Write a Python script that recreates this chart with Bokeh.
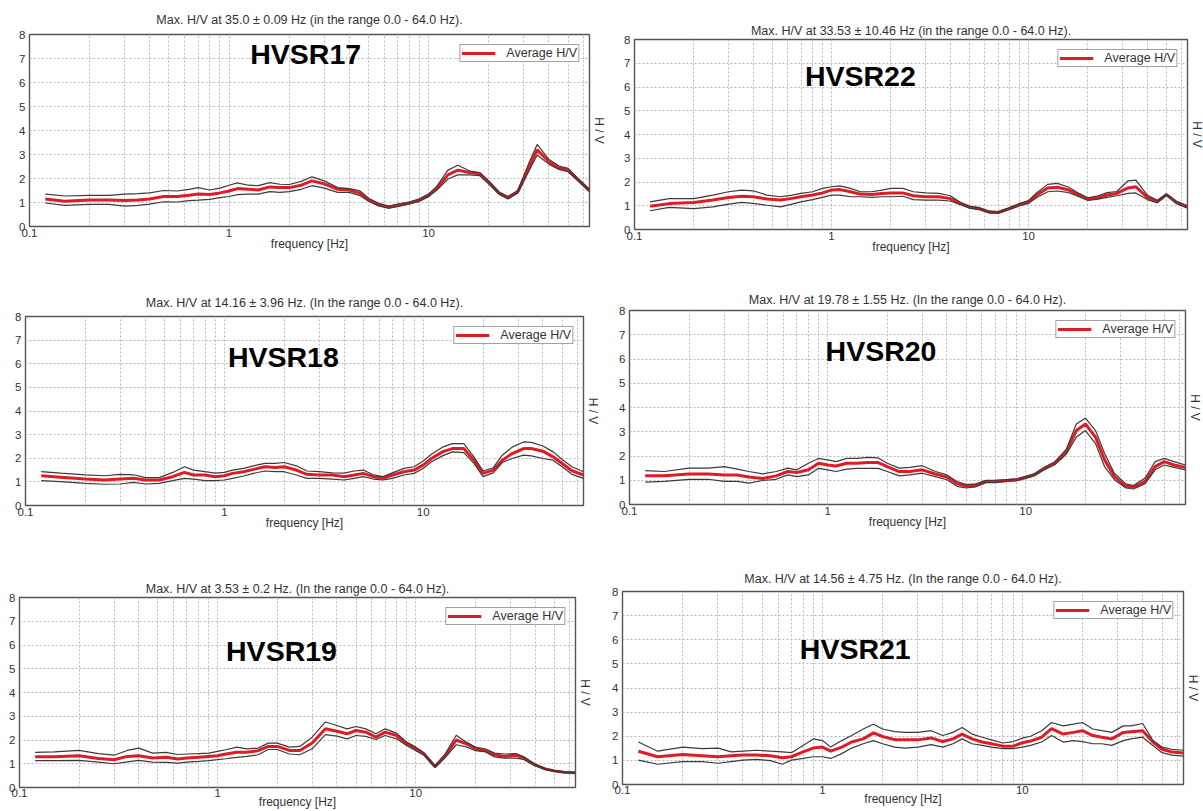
import math
from bokeh.plotting import figure
from bokeh.layouts import row, column
from bokeh.models import Range1d, FixedTicker, Label, CustomJSTickFormatter, LinearAxis, Spacer
from bokeh.embed import file_html
from bokeh.resources import INLINE

# ---------------- data ----------------
FREQ = [0.12, 0.15, 0.2, 0.25, 0.3, 0.35, 0.4, 0.47, 0.55, 0.63,
        0.7, 0.8, 0.9, 1.0, 1.1, 1.25, 1.4, 1.6, 1.8, 2.0,
        2.3, 2.6, 3.0, 3.5, 4.0, 4.5, 5.0, 5.6, 6.3, 7.0,
        8.0, 9.0, 10.0, 11.0, 12.5, 14.0, 16.0, 18.0, 20.0, 22.5,
        25.0, 28.0, 32.0, 35.0, 40.0, 45.0, 50.0, 56.0, 64.0]

HVSR17_AVG = [1.15, 1.05, 1.1, 1.1, 1.08, 1.1, 1.15, 1.25, 1.25, 1.3,
              1.35, 1.33, 1.4, 1.48, 1.58, 1.55, 1.52, 1.65, 1.62, 1.62,
              1.72, 1.9, 1.78, 1.55, 1.52, 1.4, 1.12, 0.92, 0.8, 0.88,
              0.98, 1.1, 1.3, 1.6, 2.15, 2.35, 2.25, 2.2, 1.85, 1.4,
              1.2, 1.45, 2.5, 3.2, 2.7, 2.45, 2.35, 1.95, 1.5]
HVSR17_UP = [1.35, 1.27, 1.3, 1.3, 1.35, 1.37, 1.4, 1.5, 1.48, 1.55,
             1.62, 1.52, 1.6, 1.72, 1.82, 1.72, 1.7, 1.83, 1.76, 1.75,
             1.88, 2.07, 1.9, 1.62, 1.58, 1.5, 1.18, 0.97, 0.85, 0.93,
             1.02, 1.15, 1.35, 1.68, 2.35, 2.55, 2.32, 2.25, 1.9, 1.43,
             1.25, 1.5, 2.7, 3.42, 2.8, 2.52, 2.42, 2.0, 1.55]
HVSR17_LO = [0.98, 0.88, 0.92, 0.92, 0.85, 0.88, 0.93, 1.03, 1.02, 1.08,
             1.1, 1.13, 1.2, 1.25, 1.33, 1.35, 1.35, 1.45, 1.42, 1.45,
             1.55, 1.7, 1.6, 1.42, 1.42, 1.3, 1.05, 0.86, 0.76, 0.83,
             0.94, 1.05, 1.25, 1.52, 1.98, 2.15, 2.15, 2.12, 1.78, 1.35,
             1.15, 1.4, 2.35, 2.98, 2.6, 2.38, 2.28, 1.9, 1.45]

HVSR22_AVG = [0.98, 1.09, 1.14, 1.24, 1.35, 1.4, 1.38, 1.28, 1.24, 1.31,
              1.38, 1.45, 1.54, 1.66, 1.68, 1.59, 1.49, 1.47, 1.52, 1.54,
              1.54, 1.42, 1.38, 1.38, 1.3, 1.1, 0.95, 0.88, 0.74, 0.72,
              0.88, 1.05, 1.16, 1.45, 1.75, 1.78, 1.66, 1.45, 1.28, 1.35,
              1.45, 1.52, 1.75, 1.8, 1.35, 1.18, 1.47, 1.15, 0.95]
HVSR22_UP = [1.16, 1.3, 1.3, 1.45, 1.59, 1.66, 1.63, 1.45, 1.38, 1.45,
             1.52, 1.59, 1.73, 1.8, 1.84, 1.73, 1.59, 1.59, 1.66, 1.73,
             1.73, 1.59, 1.54, 1.52, 1.42, 1.15, 0.98, 0.92, 0.77, 0.75,
             0.92, 1.1, 1.22, 1.55, 1.9, 1.94, 1.78, 1.52, 1.33, 1.42,
             1.55, 1.6, 2.05, 2.08, 1.45, 1.22, 1.5, 1.2, 1.0]
HVSR22_LO = [0.79, 0.93, 0.88, 0.95, 1.07, 1.14, 1.1, 1.02, 0.95, 1.07,
             1.16, 1.26, 1.35, 1.45, 1.45, 1.38, 1.38, 1.35, 1.38, 1.38,
             1.4, 1.26, 1.24, 1.24, 1.2, 1.05, 0.9, 0.84, 0.7, 0.68,
             0.84, 1.0, 1.1, 1.35, 1.59, 1.62, 1.55, 1.38, 1.22, 1.28,
             1.35, 1.42, 1.52, 1.54, 1.26, 1.12, 1.44, 1.1, 0.9]

HVSR18_AVG = [1.26, 1.2, 1.12, 1.08, 1.12, 1.15, 1.08, 1.08, 1.22, 1.4,
              1.29, 1.29, 1.22, 1.26, 1.36, 1.43, 1.53, 1.64, 1.61, 1.64,
              1.5, 1.32, 1.29, 1.29, 1.22, 1.29, 1.36, 1.22, 1.15, 1.29,
              1.43, 1.5, 1.71, 1.99, 2.27, 2.41, 2.41, 1.92, 1.36, 1.5,
              1.92, 2.2, 2.41, 2.41, 2.3, 2.06, 1.78, 1.47, 1.29]
HVSR18_UP = [1.43, 1.37, 1.3, 1.26, 1.32, 1.3, 1.18, 1.18, 1.4, 1.64,
             1.5, 1.43, 1.37, 1.4, 1.5, 1.57, 1.68, 1.78, 1.78, 1.82,
             1.68, 1.46, 1.43, 1.38, 1.37, 1.46, 1.5, 1.3, 1.22, 1.38,
             1.57, 1.64, 1.88, 2.17, 2.47, 2.62, 2.62, 2.06, 1.46, 1.6,
             2.13, 2.47, 2.69, 2.67, 2.52, 2.27, 1.95, 1.64, 1.43]
HVSR18_LO = [1.05, 1.01, 0.94, 0.9, 0.91, 0.98, 0.91, 0.94, 1.05, 1.15,
             1.12, 1.05, 1.05, 1.08, 1.15, 1.25, 1.36, 1.46, 1.43, 1.43,
             1.29, 1.15, 1.15, 1.12, 1.08, 1.15, 1.22, 1.12, 1.08, 1.15,
             1.29, 1.36, 1.57, 1.85, 2.1, 2.27, 2.24, 1.78, 1.22, 1.38,
             1.82, 1.99, 2.13, 2.1, 1.99, 1.92, 1.64, 1.32, 1.15]

HVSR20_AVG = [1.19, 1.19, 1.26, 1.26, 1.22, 1.22, 1.13, 1.07, 1.18, 1.36,
              1.32, 1.43, 1.7, 1.63, 1.59, 1.7, 1.7, 1.73, 1.73, 1.56,
              1.36, 1.36, 1.43, 1.26, 1.13, 0.86, 0.75, 0.79, 0.95, 0.95,
              0.99, 1.02, 1.12, 1.22, 1.5, 1.7, 2.17, 3.05, 3.32, 2.78,
              1.84, 1.15, 0.75, 0.72, 0.95, 1.56, 1.77, 1.63, 1.53]
HVSR20_UP = [1.4, 1.36, 1.5, 1.5, 1.56, 1.46, 1.36, 1.26, 1.36, 1.5,
             1.43, 1.7, 1.9, 1.84, 1.77, 1.9, 1.9, 1.94, 1.92, 1.7,
             1.5, 1.53, 1.6, 1.36, 1.22, 0.95, 0.82, 0.85, 1.0, 1.0,
             1.03, 1.06, 1.16, 1.26, 1.55, 1.76, 2.27, 3.32, 3.56, 3.05,
             2.1, 1.29, 0.85, 0.78, 1.09, 1.77, 1.9, 1.77, 1.63]
HVSR20_LO = [0.92, 0.95, 1.04, 1.04, 0.95, 0.95, 0.88, 0.99, 1.04, 1.22,
             1.15, 1.22, 1.49, 1.43, 1.36, 1.46, 1.49, 1.49, 1.49, 1.36,
             1.18, 1.22, 1.29, 1.15, 1.02, 0.75, 0.68, 0.73, 0.9, 0.9,
             0.95, 0.98, 1.08, 1.18, 1.45, 1.64, 2.07, 2.78, 3.05, 2.51,
             1.56, 1.02, 0.68, 0.64, 0.86, 1.43, 1.63, 1.53, 1.43]

HVSR19_AVG = [1.29, 1.29, 1.34, 1.22, 1.17, 1.31, 1.34, 1.24, 1.27, 1.2,
              1.24, 1.27, 1.31, 1.34, 1.41, 1.48, 1.48, 1.55, 1.73, 1.73,
              1.56, 1.56, 1.87, 2.47, 2.37, 2.26, 2.4, 2.33, 2.12, 2.33,
              2.19, 1.84, 1.63, 1.41, 0.88, 1.31, 2.0, 1.84, 1.63, 1.56,
              1.38, 1.31, 1.36, 1.24, 0.95, 0.78, 0.7, 0.64, 0.62]
HVSR19_UP = [1.48, 1.5, 1.56, 1.43, 1.36, 1.56, 1.66, 1.45, 1.48, 1.39,
             1.41, 1.43, 1.45, 1.52, 1.59, 1.7, 1.63, 1.66, 1.87, 1.87,
             1.7, 1.73, 2.12, 2.76, 2.61, 2.47, 2.57, 2.47, 2.26, 2.47,
             2.29, 1.91, 1.7, 1.46, 0.92, 1.38, 2.2, 1.91, 1.7, 1.62,
             1.45, 1.41, 1.43, 1.3, 0.98, 0.8, 0.72, 0.66, 0.63]
HVSR19_LO = [1.13, 1.13, 1.14, 1.07, 1.0, 1.08, 1.14, 1.07, 1.06, 1.03,
             1.07, 1.1, 1.13, 1.17, 1.21, 1.27, 1.31, 1.38, 1.6, 1.6,
             1.41, 1.38, 1.63, 2.23, 2.16, 2.05, 2.19, 2.15, 2.02, 2.19,
             2.05, 1.77, 1.55, 1.36, 0.84, 1.24, 1.8, 1.71, 1.55, 1.5,
             1.29, 1.24, 1.24, 1.18, 0.92, 0.76, 0.68, 0.62, 0.6]

HVSR21_AVG = [1.38, 1.15, 1.24, 1.19, 1.15, 1.19, 1.22, 1.22, 1.19, 1.11,
              1.15, 1.35, 1.51, 1.55, 1.38, 1.55, 1.76, 1.89, 2.14, 1.99,
              1.86, 1.85, 1.85, 1.93, 1.78, 1.89, 2.09, 1.89, 1.76, 1.69,
              1.59, 1.59, 1.73, 1.8, 1.96, 2.32, 2.09, 2.16, 2.23, 2.03,
              1.96, 1.89, 2.16, 2.19, 2.23, 1.76, 1.46, 1.35, 1.31]
HVSR21_UP = [1.76, 1.38, 1.55, 1.49, 1.51, 1.35, 1.38, 1.42, 1.38, 1.35,
             1.32, 1.62, 1.89, 1.82, 1.55, 1.82, 2.03, 2.3, 2.5, 2.3,
             2.19, 2.16, 2.16, 2.23, 2.03, 2.16, 2.36, 2.09, 1.96, 1.85,
             1.72, 1.78, 1.92, 2.0, 2.23, 2.57, 2.43, 2.5, 2.57, 2.3,
             2.23, 2.16, 2.43, 2.43, 2.53, 1.82, 1.55, 1.46, 1.42]
HVSR21_LO = [1.01, 0.84, 0.95, 0.95, 0.88, 0.95, 1.01, 1.04, 0.99, 0.84,
             1.01, 1.08, 1.15, 1.15, 1.08, 1.28, 1.51, 1.69, 1.82, 1.69,
             1.55, 1.51, 1.55, 1.65, 1.55, 1.69, 1.89, 1.69, 1.62, 1.55,
             1.49, 1.49, 1.55, 1.62, 1.76, 2.03, 1.76, 1.82, 1.78, 1.69,
             1.69, 1.62, 1.82, 1.89, 1.96, 1.62, 1.32, 1.22, 1.18]

NAMES = ["HVSR17", "HVSR22", "HVSR18", "HVSR20", "HVSR19", "HVSR21"]
TITLES = [
    "Max. H/V at 35.0 \u00b1 0.09 Hz (in the range 0.0 - 64.0 Hz).",
    "Max. H/V at 33.53 \u00b1 10.46 Hz (in the range 0.0 - 64.0 Hz).",
    "Max. H/V at 14.16 \u00b1 3.96 Hz. (In the range 0.0 - 64.0 Hz).",
    "Max. H/V at 19.78 \u00b1 1.55 Hz. (In the range 0.0 - 64.0 Hz).",
    "Max. H/V at 3.53 \u00b1 0.2 Hz. (In the range 0.0 - 64.0 Hz).",
    "Max. H/V at 14.56 \u00b1 4.75 Hz. (In the range 0.0 - 64.0 Hz).",
]
SERIES = [
    (HVSR17_AVG, HVSR17_UP, HVSR17_LO),
    (HVSR22_AVG, HVSR22_UP, HVSR22_LO),
    (HVSR18_AVG, HVSR18_UP, HVSR18_LO),
    (HVSR20_AVG, HVSR20_UP, HVSR20_LO),
    (HVSR19_AVG, HVSR19_UP, HVSR19_LO),
    (HVSR21_AVG, HVSR21_UP, HVSR21_LO),
]
X_TICKS = [0.1, 1, 10]
Y_TICKS = [0, 1, 2, 3, 4, 5, 6, 7, 8]
X_GRID = [0.2, 0.3, 0.4, 0.5, 0.6, 0.7, 0.8, 0.9, 1, 2, 3, 4, 5, 6, 7, 8, 9, 10, 20, 30, 40, 50, 60]
Y_GRID = [1, 2, 3, 4, 5, 6, 7]

# ---------------- layout (positions / sizes) ----------------
# frame_w, frame_h, border l, r, t, b, top spacer, title standoff, xlabel standoff,
# tick standoff, name x (Hz), name y
GEOM = [
    (560, 192, 29, 16, 34, 52, 0, 16, -3, 2, 2.42, 7.2),
    (553, 190, 26, 16, 34, 49, 5, 4, -3, 2, 1.40, 6.45),
    (558, 189, 25, 16, 32, 55, 6, 14, -3, 2, 1.98, 6.29),
    (556, 194, 27, 16, 32, 56, 0, 8, -3, 2, 1.86, 6.35),
    (556, 190, 19, 18, 31, 23, 6, 4, -5, 1, 2.10, 5.75),
    (561, 193, 28, 16, 31, 26, 0, 12, -5, 1, 1.46, 5.6),
]

FONT = "Liberation Sans"
TXT = "#333333"
RED = "#e01b24"
DARK = "#3a3a3a"
GRID = "#b8b8b8"


def style_axis(ax):
    ax.axis_line_color = None
    ax.major_tick_line_color = None
    ax.minor_tick_line_color = None
    ax.major_tick_out = 0
    ax.major_tick_in = 0
    ax.minor_tick_out = 0
    ax.minor_tick_in = 0
    ax.major_label_text_font = FONT
    ax.major_label_text_font_size = "11.5px"
    ax.major_label_text_color = TXT
    ax.axis_label_text_font = FONT
    ax.axis_label_text_font_size = "12px"
    ax.axis_label_text_font_style = "normal"
    ax.axis_label_text_color = TXT


def make_panel(i):
    fw, fh, bl, br, bt, bb, sp, tso, xlso, tkso, nx, ny = GEOM[i]
    avg, up, lo = SERIES[i]
    p = figure(x_axis_type="log", x_range=Range1d(0.1, 64), y_range=Range1d(0, 8),
               frame_width=fw, frame_height=fh,
               min_border_left=bl, min_border_right=br,
               min_border_top=bt, min_border_bottom=bb,
               title=TITLES[i], output_backend="svg", toolbar_location=None,
               background_fill_color="white", border_fill_color="white",
               outline_line_color="#555555", outline_line_width=1.4)

    p.title.align = "center"
    p.title.text_font = FONT
    p.title.text_font_size = "12.5px"
    p.title.text_font_style = "normal"
    p.title.text_color = TXT
    p.title.standoff = tso

    xa = p.xaxis[0]
    ya = p.yaxis[0]
    style_axis(xa)
    style_axis(ya)
    xa.ticker = FixedTicker(ticks=X_TICKS)
    xa.formatter = CustomJSTickFormatter(code="return tick.toString();")
    xa.major_label_standoff = tkso
    xa.axis_label = "frequency [Hz]"
    xa.axis_label_standoff = xlso
    ya.ticker = FixedTicker(ticks=Y_TICKS)
    ya.major_label_standoff = 4

    ra = LinearAxis(ticker=FixedTicker(ticks=[]), axis_label="H / V")
    style_axis(ra)
    ra.major_label_standoff = 0
    ra.axis_label_standoff = 2
    p.add_layout(ra, "right")

    p.xgrid.ticker = FixedTicker(ticks=X_GRID)
    p.ygrid.ticker = FixedTicker(ticks=Y_GRID)
    for g in (p.xgrid[0], p.ygrid[0]):
        g.grid_line_color = GRID
        g.grid_line_dash = "2 2"
        g.grid_line_width = 1

    p.line(FREQ, avg, line_color=RED, line_width=3, legend_label="Average H/V")
    p.line(FREQ, up, line_color=DARK, line_width=1.2)
    p.line(FREQ, lo, line_color=DARK, line_width=1.2)

    lg = p.legend[0]
    lg.location = "top_right"
    lg.margin = 10
    lg.padding = 1
    lg.spacing = 0
    lg.glyph_width = 34
    lg.glyph_height = 12
    lg.label_height = 12
    lg.label_standoff = 11
    lg.label_text_font = FONT
    lg.label_text_font_size = "12.5px"
    lg.label_text_color = TXT
    lg.border_line_color = "#444444"
    lg.border_line_width = 1.2
    lg.background_fill_alpha = 1.0

    p.add_layout(Label(x=nx, y=ny, text=NAMES[i],
                       text_font=FONT, text_font_style="bold", text_font_size="28.5px",
                       text_color="#000000", text_align="center", text_baseline="middle"))
    if sp > 0:
        return column(Spacer(width=1, height=sp), p, spacing=0)
    return column(p, spacing=0)


panels = [make_panel(i) for i in range(6)]
layout = column(row(panels[0], panels[1], spacing=0),
                row(panels[2], panels[3], spacing=0),
                row(panels[4], panels[5], spacing=0), spacing=0)

open("out.html", "w").write(file_html(layout, INLINE, title="HVSR"))
